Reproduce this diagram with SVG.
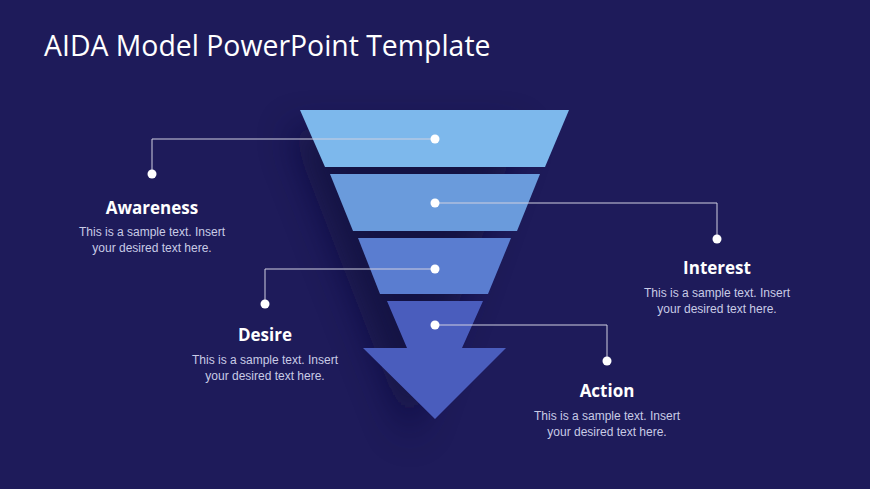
<svg xmlns="http://www.w3.org/2000/svg" width="870" height="489" viewBox="0 0 870 489">
<defs>
<style>
.title{font-family:"Open Sans","Liberation Sans",Arial,sans-serif;font-size:28.4px;fill:#ffffff}
.h{font-family:"Open Sans","Liberation Sans",Arial,sans-serif;font-size:17px;font-weight:bold;fill:#ffffff;text-anchor:middle}
.b{font-family:"Liberation Sans",Arial,sans-serif;font-size:12px;fill:#c9cbe6;text-anchor:middle}
.ln{fill:none;stroke:#d0d0e0;stroke-width:1}
.dot{fill:#ffffff}
</style>
<filter id="sh" x="-50%" y="-50%" width="200%" height="200%"><feGaussianBlur stdDeviation="18"/></filter>
</defs>
<rect width="870" height="489" fill="#1e1b5a"/>
<polygon points="290,130 520,130 410,440" fill="#0e0c35" opacity="0.6" filter="url(#sh)"/>
<g id="funnel">
<polygon id="band1" points="300,110 569,110 545,167 325,167" fill="#7db8ec"/>
<polygon id="band2" points="330,174 540,174 517,231 353,231" fill="#6a9bdc"/>
<polygon id="band3" points="358,238 511,238 488,294 380,294" fill="#5a7dd0"/>
<polygon id="band4" points="387,301 483,301 462,348 506,348 435,419 363,348 407,348" fill="#4a5dbd"/>
</g>
<g id="connectors">
<polyline class="ln" points="435,139 152,139 152,174"/>
<polyline class="ln" points="435,203 717,203 717,239"/>
<polyline class="ln" points="435,269 265,269 265,304"/>
<polyline class="ln" points="435,325 607,325 607,361"/>
<circle class="dot" cx="435" cy="139" r="4.5"/>
<circle class="dot" cx="152" cy="174" r="4.5"/>
<circle class="dot" cx="435" cy="203" r="4.5"/>
<circle class="dot" cx="717" cy="239" r="4.5"/>
<circle class="dot" cx="435" cy="269" r="4.5"/>
<circle class="dot" cx="265" cy="304" r="4.5"/>
<circle class="dot" cx="435" cy="325" r="4.5"/>
<circle class="dot" cx="607" cy="361" r="4.5"/>
</g>
<text class="title" x="44" y="56">AIDA Model PowerPoint Template</text>
<g id="awareness">
<text class="h" x="152" y="214">Awareness</text>
<text class="b" x="152" y="236">This is a sample text. Insert</text>
<text class="b" x="152" y="252">your desired text here.</text>
</g>
<g id="interest">
<text class="h" x="717" y="274">Interest</text>
<text class="b" x="717" y="297">This is a sample text. Insert</text>
<text class="b" x="717" y="313">your desired text here.</text>
</g>
<g id="desire">
<text class="h" x="265" y="341">Desire</text>
<text class="b" x="265" y="364">This is a sample text. Insert</text>
<text class="b" x="265" y="380">your desired text here.</text>
</g>
<g id="action">
<text class="h" x="607" y="397">Action</text>
<text class="b" x="607" y="420">This is a sample text. Insert</text>
<text class="b" x="607" y="436">your desired text here.</text>
</g>
</svg>
